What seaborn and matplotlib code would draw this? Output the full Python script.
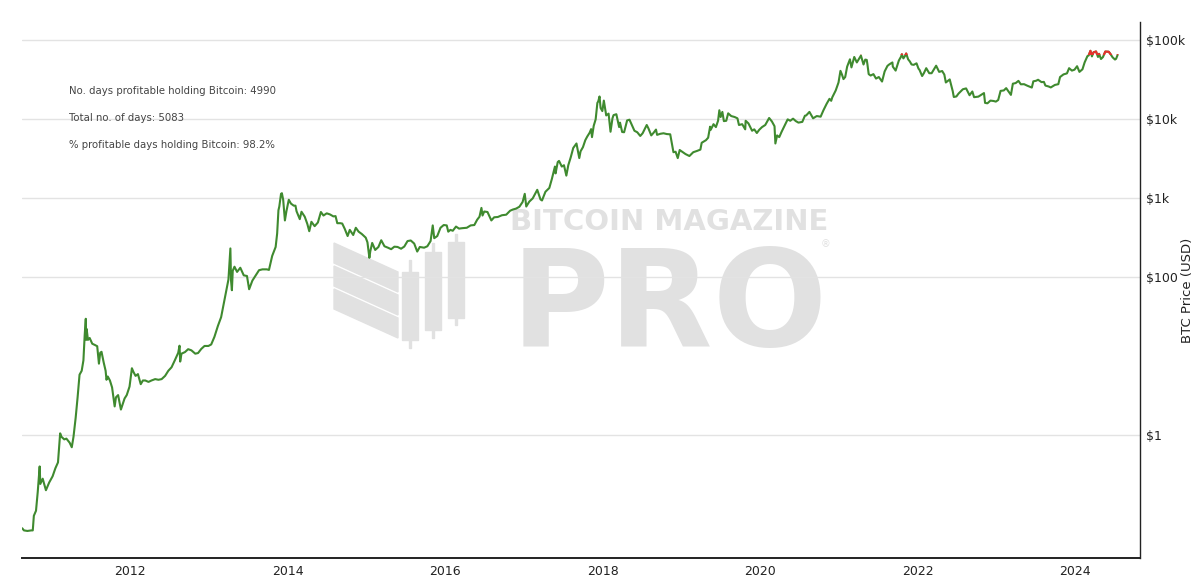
import matplotlib
matplotlib.use("Agg")
import matplotlib.pyplot as plt
import matplotlib.dates as mdates
from matplotlib.patches import Rectangle, Polygon
from matplotlib.ticker import NullLocator
import seaborn as sns
import pandas as pd

# BTC price (date, USD)
btc_2010 = [("2010-08-17", 0.066), ("2010-08-25", 0.062), ("2010-09-10", 0.061), ("2010-09-28", 0.062),
            ("2010-10-05", 0.062), ("2010-10-10", 0.095), ("2010-10-20", 0.11), ("2010-10-28", 0.19),
            ("2010-11-06", 0.40), ("2010-11-09", 0.24), ("2010-11-20", 0.28), ("2010-12-05", 0.20),
            ("2010-12-20", 0.25)]
btc_2011 = [("2011-01-05", 0.30), ("2011-01-18", 0.38), ("2011-01-30", 0.45), ("2011-02-09", 1.05),
            ("2011-02-15", 0.95), ("2011-02-28", 0.88), ("2011-03-10", 0.90), ("2011-03-25", 0.80),
            ("2011-04-04", 0.70), ("2011-04-12", 0.95), ("2011-04-22", 1.65), ("2011-05-01", 3.0),
            ("2011-05-10", 5.8), ("2011-05-20", 6.5), ("2011-05-28", 8.8), ("2011-06-03", 18.5),
            ("2011-06-08", 29.6), ("2011-06-10", 16), ("2011-06-12", 22), ("2011-06-18", 16),
            ("2011-06-26", 16.9), ("2011-07-08", 14.3), ("2011-07-20", 13.8), ("2011-07-31", 13.3),
            ("2011-08-08", 8), ("2011-08-14", 11), ("2011-08-20", 11.3), ("2011-08-30", 8.3),
            ("2011-09-08", 6.5), ("2011-09-12", 5.0), ("2011-09-18", 5.5), ("2011-09-28", 4.9),
            ("2011-10-08", 4.0), ("2011-10-20", 2.3), ("2011-10-26", 3.0), ("2011-11-05", 3.2),
            ("2011-11-18", 2.1), ("2011-11-25", 2.4), ("2011-12-05", 2.9), ("2011-12-15", 3.2),
            ("2011-12-28", 4.1)]
btc_2012 = [("2012-01-08", 7.0), ("2012-01-15", 6.3), ("2012-01-25", 5.6), ("2012-02-05", 5.9),
            ("2012-02-18", 4.4), ("2012-02-28", 4.9), ("2012-03-10", 4.9), ("2012-03-25", 4.7),
            ("2012-04-08", 4.9), ("2012-04-25", 5.1), ("2012-05-10", 5.0), ("2012-05-25", 5.1),
            ("2012-06-10", 5.6), ("2012-06-25", 6.5), ("2012-07-10", 7.2), ("2012-07-25", 8.8),
            ("2012-08-10", 11.0), ("2012-08-16", 13.5), ("2012-08-19", 8.5), ("2012-08-25", 10.7),
            ("2012-09-10", 11.2), ("2012-09-25", 12.2), ("2012-10-10", 11.8), ("2012-10-28", 10.7),
            ("2012-11-10", 10.9), ("2012-11-25", 12.3), ("2012-12-10", 13.4), ("2012-12-28", 13.4)]
btc_2013 = [("2013-01-10", 14), ("2013-01-25", 17.5), ("2013-02-10", 24), ("2013-02-25", 31),
            ("2013-03-08", 44), ("2013-03-20", 64), ("2013-03-31", 93), ("2013-04-09", 230),
            ("2013-04-12", 90), ("2013-04-16", 68), ("2013-04-20", 120), ("2013-04-28", 135),
            ("2013-05-10", 116), ("2013-05-25", 131), ("2013-06-10", 105), ("2013-06-25", 103),
            ("2013-07-05", 70), ("2013-07-20", 90), ("2013-08-05", 105), ("2013-08-20", 122),
            ("2013-09-05", 125), ("2013-09-25", 125), ("2013-10-05", 123), ("2013-10-20", 185),
            ("2013-11-05", 240), ("2013-11-12", 355), ("2013-11-18", 700), ("2013-11-22", 780),
            ("2013-11-30", 1130), ("2013-12-04", 1150), ("2013-12-10", 950), ("2013-12-18", 520),
            ("2013-12-25", 680)]
btc_2014 = [("2014-01-05", 950), ("2014-01-15", 850), ("2014-01-28", 800), ("2014-02-05", 800),
            ("2014-02-10", 680), ("2014-02-25", 540), ("2014-03-05", 670), ("2014-03-20", 580),
            ("2014-04-01", 470), ("2014-04-10", 380), ("2014-04-20", 500), ("2014-05-05", 440),
            ("2014-05-20", 490), ("2014-06-03", 665), ("2014-06-15", 600), ("2014-06-30", 640),
            ("2014-07-15", 620), ("2014-07-31", 585), ("2014-08-10", 590), ("2014-08-18", 480),
            ("2014-09-01", 480), ("2014-09-10", 475), ("2014-09-22", 405), ("2014-10-05", 330),
            ("2014-10-15", 395), ("2014-10-31", 340), ("2014-11-12", 420), ("2014-11-25", 375),
            ("2014-12-10", 350), ("2014-12-28", 315)]
btc_2015 = [("2015-01-05", 275), ("2015-01-14", 175), ("2015-01-18", 210), ("2015-01-27", 270),
            ("2015-02-10", 220), ("2015-02-25", 240), ("2015-03-10", 292), ("2015-03-25", 245),
            ("2015-04-10", 235), ("2015-04-25", 225), ("2015-05-10", 242), ("2015-05-25", 240),
            ("2015-06-10", 228), ("2015-06-25", 243), ("2015-07-10", 285), ("2015-07-25", 290),
            ("2015-08-10", 265), ("2015-08-24", 210), ("2015-09-05", 240), ("2015-09-25", 235),
            ("2015-10-10", 245), ("2015-10-25", 285), ("2015-11-04", 450), ("2015-11-11", 310),
            ("2015-11-25", 330), ("2015-12-10", 420), ("2015-12-25", 455)]
btc_2016 = [("2016-01-08", 450), ("2016-01-15", 375), ("2016-01-25", 395), ("2016-02-05", 385),
            ("2016-02-20", 435), ("2016-03-05", 410), ("2016-03-20", 415), ("2016-04-10", 420),
            ("2016-04-28", 450), ("2016-05-15", 455), ("2016-05-28", 530), ("2016-06-08", 580),
            ("2016-06-17", 750), ("2016-06-22", 600), ("2016-06-30", 675), ("2016-07-15", 665),
            ("2016-08-02", 520), ("2016-08-15", 570), ("2016-09-01", 575), ("2016-09-20", 605),
            ("2016-10-10", 615), ("2016-10-28", 690), ("2016-11-10", 715), ("2016-11-25", 735),
            ("2016-12-10", 775), ("2016-12-25", 890)]
btc_2017 = [("2017-01-04", 1130), ("2017-01-11", 780), ("2017-01-25", 900), ("2017-02-10", 990),
            ("2017-02-25", 1180), ("2017-03-03", 1270), ("2017-03-18", 960), ("2017-03-25", 930),
            ("2017-04-10", 1200), ("2017-04-28", 1340), ("2017-05-10", 1750), ("2017-05-24", 2500),
            ("2017-05-27", 2050), ("2017-06-06", 2850), ("2017-06-12", 2950), ("2017-06-25", 2500),
            ("2017-07-05", 2600), ("2017-07-16", 1920), ("2017-07-25", 2600), ("2017-08-05", 3250),
            ("2017-08-17", 4300), ("2017-09-01", 4900), ("2017-09-14", 3200), ("2017-09-20", 3900),
            ("2017-10-01", 4400), ("2017-10-12", 5400), ("2017-10-21", 6000), ("2017-11-01", 6700),
            ("2017-11-08", 7450), ("2017-11-12", 5900), ("2017-11-20", 8200), ("2017-11-29", 9900),
            ("2017-12-07", 16000), ("2017-12-11", 16700), ("2017-12-17", 19300), ("2017-12-22", 13800),
            ("2017-12-30", 12600)]
btc_2018 = [("2018-01-06", 17100), ("2018-01-12", 13500), ("2018-01-17", 11100), ("2018-01-28", 11700),
            ("2018-02-06", 6900), ("2018-02-15", 10200), ("2018-02-20", 11200), ("2018-03-05", 11500),
            ("2018-03-18", 7900), ("2018-03-22", 9000), ("2018-04-01", 6850), ("2018-04-10", 6800),
            ("2018-04-24", 9600), ("2018-05-05", 9800), ("2018-05-15", 8500), ("2018-05-28", 7100),
            ("2018-06-10", 6800), ("2018-06-24", 6100), ("2018-07-05", 6600), ("2018-07-24", 8400),
            ("2018-08-01", 7600), ("2018-08-14", 6200), ("2018-08-25", 6700), ("2018-09-05", 7350),
            ("2018-09-10", 6300), ("2018-09-25", 6500), ("2018-10-10", 6600), ("2018-10-25", 6450),
            ("2018-11-10", 6400), ("2018-11-20", 4500), ("2018-11-25", 3800), ("2018-12-05", 3850),
            ("2018-12-15", 3200), ("2018-12-24", 4050)]
btc_2019 = [("2019-01-05", 3850), ("2019-01-20", 3600), ("2019-02-07", 3400), ("2019-02-25", 3800),
            ("2019-03-15", 3950), ("2019-03-30", 4100), ("2019-04-05", 5000), ("2019-04-25", 5400),
            ("2019-05-05", 5800), ("2019-05-14", 8000), ("2019-05-17", 7300), ("2019-05-30", 8600),
            ("2019-06-10", 7900), ("2019-06-20", 9500), ("2019-06-26", 12900), ("2019-07-02", 10600),
            ("2019-07-10", 12300), ("2019-07-17", 9400), ("2019-07-28", 9500), ("2019-08-06", 11800),
            ("2019-08-20", 10900), ("2019-09-05", 10600), ("2019-09-18", 10200), ("2019-09-25", 8400),
            ("2019-10-10", 8600), ("2019-10-24", 7400), ("2019-10-26", 9500), ("2019-11-08", 8800),
            ("2019-11-25", 7100), ("2019-12-05", 7400), ("2019-12-17", 6650), ("2019-12-28", 7300)]
btc_2020 = [("2020-01-10", 7900), ("2020-01-25", 8400), ("2020-02-12", 10300), ("2020-02-25", 9300),
            ("2020-03-08", 8100), ("2020-03-12", 4900), ("2020-03-20", 6200), ("2020-03-30", 5900),
            ("2020-04-10", 6900), ("2020-04-29", 8800), ("2020-05-08", 9900), ("2020-05-20", 9500),
            ("2020-06-02", 10100), ("2020-06-15", 9400), ("2020-06-27", 9000), ("2020-07-15", 9200),
            ("2020-07-27", 11000), ("2020-08-02", 11100), ("2020-08-17", 12300), ("2020-09-03", 10200),
            ("2020-09-20", 10900), ("2020-10-08", 10700), ("2020-10-21", 12900), ("2020-11-05", 15600),
            ("2020-11-18", 18000), ("2020-11-26", 17000), ("2020-12-01", 18800), ("2020-12-17", 23000),
            ("2020-12-30", 29000)]
btc_2021 = [("2021-01-08", 40700), ("2021-01-15", 36500), ("2021-01-22", 32000), ("2021-01-30", 34000),
            ("2021-02-08", 46000), ("2021-02-21", 57000), ("2021-02-28", 45000), ("2021-03-13", 61000),
            ("2021-03-25", 52000), ("2021-04-05", 58500), ("2021-04-13", 63500), ("2021-04-25", 49000),
            ("2021-05-03", 56500), ("2021-05-10", 56000), ("2021-05-13", 49500), ("2021-05-19", 37000),
            ("2021-05-28", 35500), ("2021-06-10", 37000), ("2021-06-22", 32500), ("2021-07-05", 34000),
            ("2021-07-20", 29800), ("2021-08-01", 40000), ("2021-08-14", 47000), ("2021-08-22", 49000),
            ("2021-09-06", 52000), ("2021-09-08", 46000), ("2021-09-21", 41000), ("2021-10-06", 55000),
            ("2021-10-16", 61500), ("2021-10-20", 66000), ("2021-10-27", 58500), ("2021-11-03", 62500),
            ("2021-11-09", 67500), ("2021-11-18", 57000), ("2021-11-26", 53500), ("2021-12-04", 49000),
            ("2021-12-14", 48500), ("2021-12-27", 50700)]
btc_2022 = [("2022-01-05", 43500), ("2022-01-10", 41800), ("2022-01-22", 35000), ("2022-01-30", 38000),
            ("2022-02-10", 44000), ("2022-02-24", 38000), ("2022-03-07", 38000), ("2022-03-28", 47300),
            ("2022-04-11", 39500), ("2022-04-25", 40500), ("2022-05-05", 36500), ("2022-05-12", 29000),
            ("2022-05-30", 31700), ("2022-06-13", 22500), ("2022-06-18", 19000), ("2022-06-30", 19300),
            ("2022-07-10", 21000), ("2022-07-30", 23800), ("2022-08-14", 24400), ("2022-08-30", 20000),
            ("2022-09-12", 22300), ("2022-09-20", 18900), ("2022-10-10", 19200), ("2022-10-29", 20700),
            ("2022-11-05", 21300), ("2022-11-10", 16000), ("2022-11-21", 15800), ("2022-12-05", 17100),
            ("2022-12-20", 16900), ("2022-12-30", 16600)]
btc_2023 = [("2023-01-10", 17400), ("2023-01-21", 22700), ("2023-02-05", 23000), ("2023-02-16", 24600),
            ("2023-03-10", 20200), ("2023-03-19", 28000), ("2023-04-01", 28500), ("2023-04-14", 30400),
            ("2023-04-25", 27500), ("2023-05-10", 27600), ("2023-05-25", 26400), ("2023-06-15", 25000),
            ("2023-06-22", 30000), ("2023-07-05", 30500), ("2023-07-14", 31400), ("2023-07-30", 29300),
            ("2023-08-10", 29500), ("2023-08-17", 26500), ("2023-09-01", 25800), ("2023-09-11", 25100),
            ("2023-09-30", 27000), ("2023-10-16", 27600), ("2023-10-24", 34000), ("2023-11-09", 36700),
            ("2023-11-25", 37800), ("2023-12-05", 44000), ("2023-12-18", 41000), ("2023-12-30", 42100)]
btc_2024 = [("2024-01-11", 46600), ("2024-01-22", 39500), ("2024-02-05", 42600), ("2024-02-15", 52000),
            ("2024-02-28", 62500), ("2024-03-05", 63800), ("2024-03-13", 73000), ("2024-03-20", 62000),
            ("2024-03-27", 69800), ("2024-04-08", 71600), ("2024-04-17", 61000), ("2024-04-22", 66800),
            ("2024-05-01", 57500), ("2024-05-10", 60800), ("2024-05-21", 71400), ("2024-06-06", 71000),
            ("2024-06-13", 67000), ("2024-06-24", 60300), ("2024-07-05", 56600), ("2024-07-10", 57800),
            ("2024-07-17", 64600)]

profitable_days = 4990
total_days = 5083

ytick_values = [1, 100, 1e3, 1e4, 1e5]
ytick_labels = ["$1", "$100", "$1k", "$10k", "$100k"]
xtick_years = [2012, 2014, 2016, 2018, 2020, 2022, 2024]

green = "#3f8a2f"
red = "#e8302c"
mark_grey = "#e1e1e1"

rows = (btc_2010 + btc_2011 + btc_2012 + btc_2013 + btc_2014 + btc_2015 + btc_2016 + btc_2017
        + btc_2018 + btc_2019 + btc_2020 + btc_2021 + btc_2022 + btc_2023 + btc_2024)
df = pd.DataFrame(rows, columns=["date", "price"])
df["date"] = pd.to_datetime(df["date"])
last_price = df["price"].iloc[-1]

sns.set_style("white")
plt.rcParams["font.family"] = ["DejaVu Sans"]

fig = plt.figure(figsize=(12, 5.85), dpi=100)
ax = fig.add_axes([22 / 1200, 27 / 585, 1118 / 1200, 536 / 585])

# green line for every day, red copy clipped to prices above today's price
sns.lineplot(data=df, x="date", y="price", estimator=None, color=green, linewidth=1.5, ax=ax, zorder=3)
sns.lineplot(data=df, x="date", y="price", estimator=None, color=red, linewidth=1.5, ax=ax, zorder=4)
ax.set_yscale("log")

x0 = pd.Timestamp("2010-08-16")
x1 = pd.Timestamp("2024-10-29")
ax.set_xlim(x0, x1)
ax.set_ylim(10 ** -1.557, 10 ** 5.228)

clip = Rectangle((mdates.date2num(x0), last_price), mdates.date2num(x1) - mdates.date2num(x0),
                 1e6, transform=ax.transData)
ax.lines[-1].set_clip_path(clip)

ax.set_yticks(ytick_values)
ax.set_yticklabels(ytick_labels)
ax.yaxis.set_minor_locator(NullLocator())
ax.set_xticks([pd.Timestamp(f"{y}-01-01") for y in xtick_years])
ax.set_xticklabels([str(y) for y in xtick_years])
ax.yaxis.tick_right()
ax.yaxis.set_label_position("right")
ax.tick_params(length=0, labelsize=9, colors="#222222")
ax.tick_params(axis="y", pad=4)
ax.tick_params(axis="x", pad=5)
ax.set_xlabel("")
ax.set_ylabel("BTC Price (USD)", fontsize=9.5, color="#222222", rotation=90, va="center")
ax.yaxis.set_label_coords((1187 - 22) / 1118, 0.5)

ax.grid(axis="y", color="#e3e3e3", linewidth=1)
ax.set_axisbelow(True)
for side in ["left", "top"]:
    ax.spines[side].set_visible(False)
ax.spines["right"].set_color("#222222")
ax.spines["right"].set_linewidth(1)
ax.spines["bottom"].set_color("#222222")
ax.spines["bottom"].set_linewidth(1.4)

# stats box
pct = 100 * profitable_days / total_days
stats = [f"No. days profitable holding Bitcoin: {profitable_days}",
         f"Total no. of days: {total_days}",
         f"% profitable days holding Bitcoin: {pct:.1f}%"]
for i, s in enumerate(stats):
    ax.text(0.042, 0.871 - i * 0.0505, s, transform=ax.transAxes, fontsize=7.3,
            color="#444444", va="center", ha="left")


# watermark (figure pixel coords)
def fp(x, y):
    return (x / 1200, 1 - y / 585)


for top in [243, 266, 289]:
    ax.add_patch(Polygon([fp(334, top), fp(398, top + 29), fp(398, top + 49), fp(334, top + 20)],
                         closed=True, transform=fig.transFigure, color=mark_grey, zorder=0.2, clip_on=False))
for cx, b0, b1, w0, w1 in [(410, 272, 340, 260, 348), (433, 252, 330, 243, 338), (456, 242, 318, 234, 325)]:
    ax.add_patch(Polygon([fp(cx - 8, b0), fp(cx + 8, b0), fp(cx + 8, b1), fp(cx - 8, b1)],
                         closed=True, transform=fig.transFigure, color=mark_grey, zorder=0.2, clip_on=False))
    ax.add_patch(Polygon([fp(cx - 1, w0), fp(cx + 1, w0), fp(cx + 1, w1), fp(cx - 1, w1)],
                         closed=True, transform=fig.transFigure, color=mark_grey, zorder=0.2, clip_on=False))
ax.text(*fp(669, 222), "BITCOIN MAGAZINE", transform=fig.transFigure, fontsize=21, fontweight="bold",
        color=mark_grey, ha="center", va="center", zorder=0.2)
ax.text(*fp(669, 295), "PRO", transform=fig.transFigure, fontsize=97, fontweight="bold",
        color=mark_grey, ha="center", va="center_baseline", zorder=0.2)
ax.text(*fp(826, 244), "®", transform=fig.transFigure, fontsize=7, color=mark_grey,
        ha="center", va="center", zorder=0.2)

fig.savefig("out.png", dpi=100)
